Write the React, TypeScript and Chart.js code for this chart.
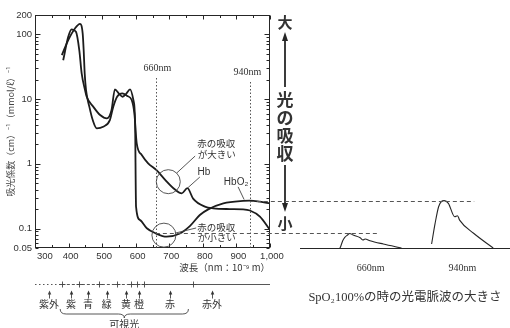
import React, { useEffect, useRef } from 'react';
import { Chart, registerables } from 'chart.js';

Chart.register(...registerables);

const W = 510;
const H = 328;

const INK = '#262626';
const TEXT = '#333333';
const SANS = '"Liberation Sans", Arial, sans-serif';
const SERIF = '"Liberation Serif", "Times New Roman", serif';
const JP = '"Noto Sans CJK JP", sans-serif';

// Deoxyhaemoglobin (Hb) absorption: wavelength (nm) and coefficient (cm)^-1 (mmol/l)^-1
const HB_NM = [380, 399, 419, 434, 442, 445, 448, 452, 462, 472, 484, 503, 523, 533, 545, 560, 575, 588, 596, 603, 618, 637, 662, 687, 717, 737, 754, 771, 806, 831, 880, 920, 940, 970, 1000];
const HB_VAL = [48, 82, 124, 146, 104, 57, 25, 13.8, 7.6, 4.75, 3.54, 3.74, 4.75, 7.6, 11, 12.3, 11.2, 9.7, 6.0, 2.07, 1.37, 1.02, 0.8, 0.57, 0.4, 0.35, 0.42, 0.29, 0.218, 0.205, 0.2, 0.198, 0.19, 0.153, 0.095];

// Oxyhaemoglobin (HbO2) absorption
const HBO2_NM = [384, 399, 409, 422, 432, 439, 449, 454, 474, 494, 514, 528, 538, 550, 561, 572, 583, 593, 598, 601, 613, 633, 660, 692, 730, 762, 791, 816, 861, 920, 940, 970, 1000];
const HBO2_VAL = [40, 92, 120, 110, 57, 25, 13.8, 10.9, 7.6, 5.68, 5.04, 6.8, 14.2, 12.2, 10.9, 12.2, 14.2, 9.7, 4.75, 0.217, 0.135, 0.101, 0.084, 0.0747, 0.083, 0.11, 0.162, 0.198, 0.245, 0.268, 0.27, 0.26, 0.245];

const X_TICKS = [300, 400, 500, 600, 700, 800, 900, 1000];
const Y_TICKS = [0.05, 0.1, 1, 10, 100, 200];
const X_TITLE = '波長（nm：10⁻⁹ m）';
const Y_TITLE = '吸光係数（cm）⁻¹（mmol/ℓ）⁻¹';

// Oximeter wavelengths
const MARKS = [660, 940];
const MARK_LABEL_DY = [53, 57];
const MARK_LABEL_DX = [1, -3];

// Photoplethysmogram at SpO2 100 % (time in s, amplitude in absorption units)
const PULSE_660_T = [0.57, 0.58, 0.61, 0.64, 0.68, 0.71, 0.76, 0.86, 0.9, 0.93, 1.0, 1.19, 1.45];
const PULSE_660_A = [0.05, 0.0523, 0.0648, 0.0732, 0.0794, 0.084, 0.0793, 0.0721, 0.0665, 0.069, 0.0648, 0.0576, 0.05];
const PULSE_940_T = [1.88, 1.93, 1.98, 2.02, 2.06, 2.12, 2.21, 2.25, 2.28, 2.48, 2.76];
const PULSE_940_A = [0.0576, 0.12, 0.217, 0.262, 0.27, 0.245, 0.152, 0.158, 0.135, 0.0844, 0.05];
const PULSE_TITLE = 'SpO₂100%の時の光電脈波の大きさ';

// Colour bands of the spectrum
const BAND_EDGES = [380, 430, 490, 545, 585, 605, 625, 770];
const BAND_NAMES = ['紫外', '紫', '青', '緑', '黄', '橙', '赤', '赤外'];
const BAND_NM = [342, 407, 458, 514, 571, 610, 702, 827];
const VISIBLE = [375, 757];

// Annotation anchors in data space (nm, coefficient)
const CIRCLES = [{ nm: 697, v: 0.53 }, { nm: 684, v: 0.079 }];
const LEADERS = [
  [722, 0.72, 777, 1.32],
  [791, 0.625, 756, 0.43],
  [905, 0.44, 923, 0.28],
  [718, 0.085, 780, 0.102],
];
const NOTES: { s: string; nm: number; v: number; font: string; align: CanvasTextAlign }[] = [
  { s: '赤の吸収', nm: 783, v: 2.1, font: `9.5px ${JP}`, align: 'left' },
  { s: 'が大きい', nm: 785, v: 1.42, font: `9.5px ${JP}`, align: 'left' },
  { s: 'Hb', nm: 803, v: 0.747, font: `10px ${SANS}`, align: 'center' },
  { s: 'HbO₂', nm: 899, v: 0.523, font: `10px ${SANS}`, align: 'center' },
  { s: '赤の吸収', nm: 783, v: 0.104, font: `9.5px ${JP}`, align: 'left' },
  { s: 'が小さい', nm: 785, v: 0.0726, font: `9.5px ${JP}`, align: 'left' },
];

const hbo2At = (nm: number) => HBO2_VAL[HBO2_NM.indexOf(nm)];
const PULSES = [
  { t: PULSE_660_T, a: PULSE_660_A },
  { t: PULSE_940_T, a: PULSE_940_A },
];

function put(ctx: CanvasRenderingContext2D, s: string, x: number, y: number, font: string, align: CanvasTextAlign = 'center') {
  ctx.font = font;
  ctx.fillStyle = TEXT;
  ctx.textAlign = align;
  ctx.textBaseline = 'middle';
  ctx.fillText(s, x, y);
}

function arrowHead(ctx: CanvasRenderingContext2D, x: number, y: number, dir: number, w: number, h: number) {
  ctx.beginPath();
  ctx.moveTo(x, y);
  ctx.lineTo(x - w / 2, y - dir * h);
  ctx.lineTo(x + w / 2, y - dir * h);
  ctx.closePath();
  ctx.fill();
}

const spectrumDecor = {
  id: 'spectrumDecor',
  afterDraw(chart: any) {
    const { ctx, chartArea: a } = chart;
    const X = (n: number) => chart.scales.x.getPixelForValue(n);
    const Y = (v: number) => chart.scales.y.getPixelForValue(v);
    const L = Math.round(a.left) + 0.5;
    const R = Math.round(a.right) - 0.5;
    const T = Math.round(a.top) + 0.5;
    const B = Math.round(a.bottom) - 0.5;
    ctx.save();

    // frame and inward ticks
    ctx.strokeStyle = INK;
    ctx.lineWidth = 1;
    ctx.strokeRect(L, T, R - L, B - T);
    ctx.beginPath();
    for (let n = 300; n <= 1000; n += 50) {
      const px = Math.round(X(n)) + 0.5;
      const len = n % 100 === 0 ? 4 : 2.5;
      ctx.moveTo(px, B); ctx.lineTo(px, B - len);
      ctx.moveTo(px, T); ctx.lineTo(px, T + len);
    }
    for (const d of [0.01, 0.1, 1, 10, 100]) {
      for (let m = 1; m <= 9; m++) {
        const v = d * m;
        if (v < 0.0499 || v > 200.01) continue;
        const py = Math.round(Y(v)) + 0.5;
        const len = m === 1 ? 5 : 3;
        ctx.moveTo(L, py); ctx.lineTo(L + len, py);
        ctx.moveTo(R, py); ctx.lineTo(R - len, py);
      }
    }
    ctx.stroke();

    // 660 / 940 nm guides
    ctx.strokeStyle = '#555';
    ctx.setLineDash([1.5, 2]);
    MARKS.forEach((nm, i) => {
      const px = Math.round(X(nm)) + 0.5;
      const ly = a.top + MARK_LABEL_DY[i];
      ctx.beginPath();
      ctx.moveTo(px, ly + 10);
      ctx.lineTo(px, B);
      ctx.stroke();
      put(ctx, `${nm}nm`, px + MARK_LABEL_DX[i], ly, `10px ${SERIF}`);
    });
    ctx.setLineDash([]);

    // circles, leaders, notes
    ctx.strokeStyle = '#444';
    ctx.lineWidth = 0.9;
    CIRCLES.forEach((c) => {
      ctx.beginPath();
      ctx.arc(X(c.nm), Y(c.v), 12, 0, Math.PI * 2);
      ctx.stroke();
    });
    LEADERS.forEach(([n1, v1, n2, v2]) => {
      ctx.beginPath();
      ctx.moveTo(X(n1), Y(v1));
      ctx.lineTo(X(n2), Y(v2));
      ctx.stroke();
    });
    NOTES.forEach((n) => put(ctx, n.s, X(n.nm), Y(n.v), n.font, n.align));

    // absorption arrow on the right
    const ax = a.right + 15;
    const bold = `bold 15px ${JP}`;
    ctx.fillStyle = INK;
    ctx.strokeStyle = INK;
    ctx.lineWidth = 1.8;
    put(ctx, '大', ax, a.top + 7, bold);
    ctx.beginPath(); ctx.moveTo(ax, a.top + 24); ctx.lineTo(ax, a.top + 72); ctx.stroke();
    ctx.fillStyle = INK;
    arrowHead(ctx, ax, a.top + 17, -1, 6, 9);
    ['光', 'の', '吸', '収'].forEach((c, i) => put(ctx, c, ax, a.top + 85 + i * 18, `bold 17px ${JP}`));
    ctx.beginPath(); ctx.moveTo(ax, a.top + 150); ctx.lineTo(ax, a.top + 190); ctx.stroke();
    ctx.fillStyle = INK;
    arrowHead(ctx, ax, a.top + 197, 1, 6, 9);
    put(ctx, '小', ax, a.top + 208, bold);

    // spectrum band below the axis
    const by = Math.round(a.bottom + 36) + 0.5;
    ctx.strokeStyle = '#444';
    ctx.lineWidth = 0.9;
    ctx.setLineDash([1.5, 2.5]);
    ctx.beginPath(); ctx.moveTo(X(300), by); ctx.lineTo(X(BAND_EDGES[0]), by); ctx.stroke();
    ctx.setLineDash([3, 2]);
    ctx.beginPath(); ctx.moveTo(X(BAND_EDGES[0]), by); ctx.lineTo(X(630), by); ctx.stroke();
    ctx.setLineDash([]);
    ctx.beginPath(); ctx.moveTo(X(630), by); ctx.lineTo(X(1000), by); ctx.stroke();
    ctx.beginPath();
    BAND_EDGES.forEach((nm) => {
      const px = Math.round(X(nm)) + 0.5;
      ctx.moveTo(px, by - 3); ctx.lineTo(px, by + 3);
      ctx.moveTo(px - 3, by); ctx.lineTo(px + 3, by);
    });
    ctx.stroke();
    ctx.fillStyle = '#444';
    BAND_NM.forEach((nm, i) => {
      const px = Math.round(X(nm)) + 0.5;
      ctx.beginPath(); ctx.moveTo(px, by + 9); ctx.lineTo(px, by + 14); ctx.stroke();
      arrowHead(ctx, px, by + 6, -1, 3.5, 4);
      put(ctx, BAND_NAMES[i], X(nm), a.bottom + 56, `10px ${JP}`);
    });

    // brace over the visible range
    const bx1 = X(VISIBLE[0]);
    const bx2 = X(VISIBLE[1]);
    const bm = (bx1 + bx2) / 2;
    const bt = a.bottom + 61;
    const bb = bt + 5;
    ctx.beginPath();
    ctx.moveTo(bx1, bt);
    ctx.quadraticCurveTo(bx1, bb, bx1 + 6, bb);
    ctx.lineTo(bm - 6, bb);
    ctx.quadraticCurveTo(bm, bb, bm, bb + 4);
    ctx.quadraticCurveTo(bm, bb, bm + 6, bb);
    ctx.lineTo(bx2 - 6, bb);
    ctx.quadraticCurveTo(bx2, bb, bx2, bt);
    ctx.stroke();
    put(ctx, '可視光', bm, a.bottom + 76, `10px ${JP}`);

    ctx.restore();
  },
};

function pulseDecor(spec: any) {
  return {
    id: 'pulseDecor',
    afterDraw(chart: any) {
      const { ctx } = chart;
      ctx.save();
      ctx.strokeStyle = '#555';
      ctx.lineWidth = 1;
      ctx.setLineDash([4, 3]);
      MARKS.forEach((nm, i) => {
        const y = Math.round(chart.scales.y.getPixelForValue(hbo2At(nm))) + 0.5;
        const p = PULSES[i];
        const peakT = p.t[p.a.indexOf(Math.max(...p.a))];
        ctx.beginPath();
        ctx.moveTo(spec.scales.x.getPixelForValue(nm), y);
        ctx.lineTo(chart.scales.x.getPixelForValue(peakT) + 30, y);
        ctx.stroke();
      });
      ctx.restore();
    },
  };
}

export default function App() {
  const specRef = useRef<HTMLCanvasElement>(null);
  const pulseRef = useRef<HTMLCanvasElement>(null);

  useEffect(() => {
    const curve = (label: string, nm: number[], val: number[]) => ({
      label,
      data: nm.map((x, i) => ({ x, y: val[i] })),
      borderColor: '#1c1c1c',
      borderWidth: 1.8,
      pointRadius: 0,
      fill: false,
      cubicInterpolationMode: 'monotone' as const,
    });

    const spec = new Chart(specRef.current as HTMLCanvasElement, {
      type: 'line',
      data: { datasets: [curve('Hb', HB_NM, HB_VAL), curve('HbO₂', HBO2_NM, HBO2_VAL)] },
      options: {
        responsive: false,
        animation: false,
        events: [],
        layout: { padding: { left: 0, top: 15, right: 240, bottom: 0 } },
        plugins: { legend: { display: false }, tooltip: { enabled: false } },
        scales: {
          x: {
            type: 'linear',
            min: 300,
            max: 1000,
            afterBuildTicks: (s: any) => { s.ticks = X_TICKS.map((value) => ({ value })); },
            afterFit: (s: any) => { s.height = 80; },
            grid: { display: false, drawTicks: false },
            border: { display: false },
            ticks: {
              padding: 3,
              labelOffset: 2,
              autoSkip: false,
              maxRotation: 0,
              color: TEXT,
              font: { family: SANS, size: 9.5 },
              callback: (v: any) => (v === 300 ? '\u2007\u2007\u2007300' : Number(v).toLocaleString('en-US')),
            },
            title: {
              display: true,
              text: X_TITLE,
              align: 'end',
              color: TEXT,
              font: { family: JP, size: 9.5 },
              padding: { top: 0, bottom: 55 },
            },
          },
          y: {
            type: 'logarithmic',
            min: 0.05,
            max: 200,
            afterBuildTicks: (s: any) => { s.ticks = Y_TICKS.map((value) => ({ value })); },
            afterFit: (s: any) => { s.width = 35; },
            grid: { display: false, drawTicks: false },
            border: { display: false },
            ticks: {
              padding: 3,
              autoSkip: false,
              color: TEXT,
              font: { family: SANS, size: 9.5 },
              callback: (v: any) => String(v),
            },
            title: {
              display: true,
              text: Y_TITLE,
              color: '#444',
              font: { family: JP, size: 9 },
              padding: { top: 5.6, bottom: 0 },
            },
          },
        },
      },
      plugins: [spectrumDecor],
    });

    const pulse = new Chart(pulseRef.current as HTMLCanvasElement, {
      type: 'line',
      data: {
        datasets: PULSES.map((p, k) => ({
          label: `${MARKS[k]}nm`,
          data: p.t.map((x, i) => ({ x, y: p.a[i] })),
          borderColor: INK,
          borderWidth: 1.1,
          pointRadius: 0,
          fill: false,
          cubicInterpolationMode: 'monotone' as const,
        })),
      },
      options: {
        responsive: false,
        animation: false,
        events: [],
        layout: { padding: { left: 300, top: 15, right: 0, bottom: 0 } },
        plugins: { legend: { display: false }, tooltip: { enabled: false } },
        scales: {
          x: {
            type: 'linear',
            min: 0,
            max: 3,
            afterBuildTicks: (s: any) => {
              s.ticks = PULSES.map((p) => ({ value: (p.t[0] + p.t[p.t.length - 1]) / 2 }));
            },
            afterFit: (s: any) => { s.height = 80; },
            grid: { display: false, drawTicks: false },
            border: { display: true, color: INK, width: 1 },
            ticks: {
              padding: 14,
              autoSkip: false,
              maxRotation: 0,
              color: TEXT,
              font: { family: SERIF, size: 10 },
              callback: (_v: any, i: number) => `${MARKS[i]}nm`,
            },
            title: {
              display: true,
              text: PULSE_TITLE,
              color: TEXT,
              font: { family: `"Liberation Serif", "Noto Sans CJK JP", serif`, size: 12.5 },
              padding: { top: 0, bottom: 22.5 },
            },
          },
          y: { type: 'logarithmic', min: 0.05, max: 200, display: false },
        },
      },
      plugins: [pulseDecor(spec)],
    });

    return () => {
      pulse.destroy();
      spec.destroy();
    };
  }, []);

  return (
    <div style={{ position: 'fixed', left: 0, top: 0, width: W, height: H, background: '#fff' }}>
      <canvas ref={specRef} width={W} height={H} style={{ position: 'absolute', left: 0, top: 0 }} />
      <canvas ref={pulseRef} width={W} height={H} style={{ position: 'absolute', left: 0, top: 0 }} />
    </div>
  );
}
